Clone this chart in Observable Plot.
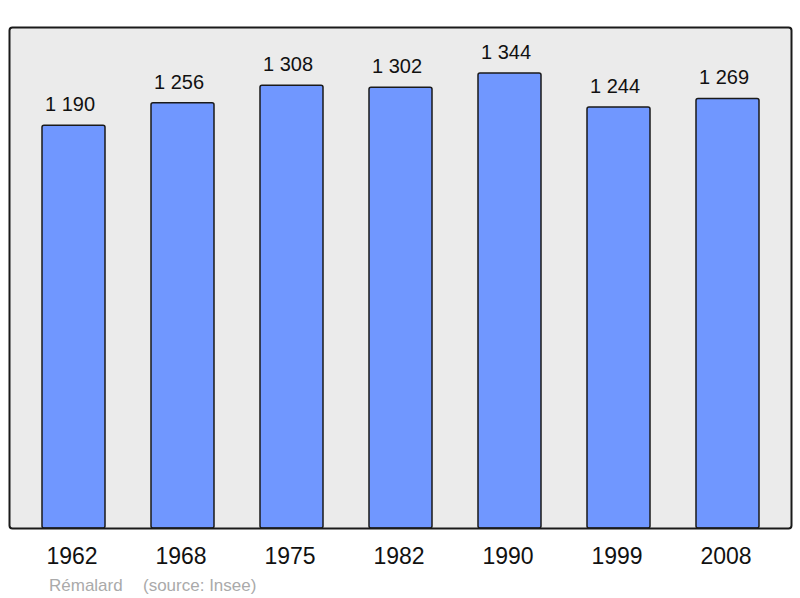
<!DOCTYPE html>
<html>
<head>
<meta charset="utf-8">
<script src="https://cdn.jsdelivr.net/npm/d3@7"></script>
<script src="https://cdn.jsdelivr.net/npm/@observablehq/plot@0.6"></script>
<style>
  html, body { margin: 0; padding: 0; background: #ffffff; }
  #chart svg { display: block; }
</style>
</head>
<body>
<div id="chart"></div>
<script>
const years = ["1962", "1968", "1975", "1982", "1990", "1999", "2008"];
const population = [1190, 1256, 1308, 1302, 1344, 1244, 1269];
const valueLabels = ["1 190", "1 256", "1 308", "1 302", "1 344", "1 244", "1 269"];
const commune = "Rémalard";
const source = "(source: Insee)";

const data = years.map((y, i) => ({year: y, value: population[i], label: valueLabels[i]}));

const chart = Plot.plot({
  width: 800,
  height: 598,
  marginLeft: 9,
  marginRight: 9,
  marginTop: 27,
  marginBottom: 70,
  style: {fontFamily: "'Liberation Sans', Arial, sans-serif", background: "#ffffff", color: "#000"},
  x: {domain: years, range: [10, 792], paddingInner: 0.42, paddingOuter: 0.283, label: null},
  y: {domain: [0, 1480], axis: null},
  marks: [
    Plot.frame({fill: "#ebebeb", stroke: "none"}),
    Plot.barY(data, {x: "year", y: "value", fill: "#7097ff", stroke: "#1a1a1a", strokeWidth: 1.5, rx: 2}),
    Plot.text(data, {x: "year", y: "value", text: "label", dx: -4, dy: -14.5, lineAnchor: "bottom", fontSize: 20, fill: "#111"}),
    Plot.frame({stroke: "#1a1a1a", strokeWidth: 2, rx: 3}),
    Plot.axisX({tickSize: 0, tickPadding: 19, fontSize: 23, dx: -2, label: null, fill: "#111"}),
    Plot.text([commune], {frameAnchor: "bottom-left", dx: 39.5, dy: 62, text: d => d, fontSize: 17, fill: "#aaaaaa", textAnchor: "start"}),
    Plot.text([source], {frameAnchor: "bottom-left", dx: 133.5, dy: 62, text: d => d, fontSize: 17, fill: "#aaaaaa", textAnchor: "start"})
  ]
});
document.getElementById("chart").appendChild(chart);
</script>
</body>
</html>
